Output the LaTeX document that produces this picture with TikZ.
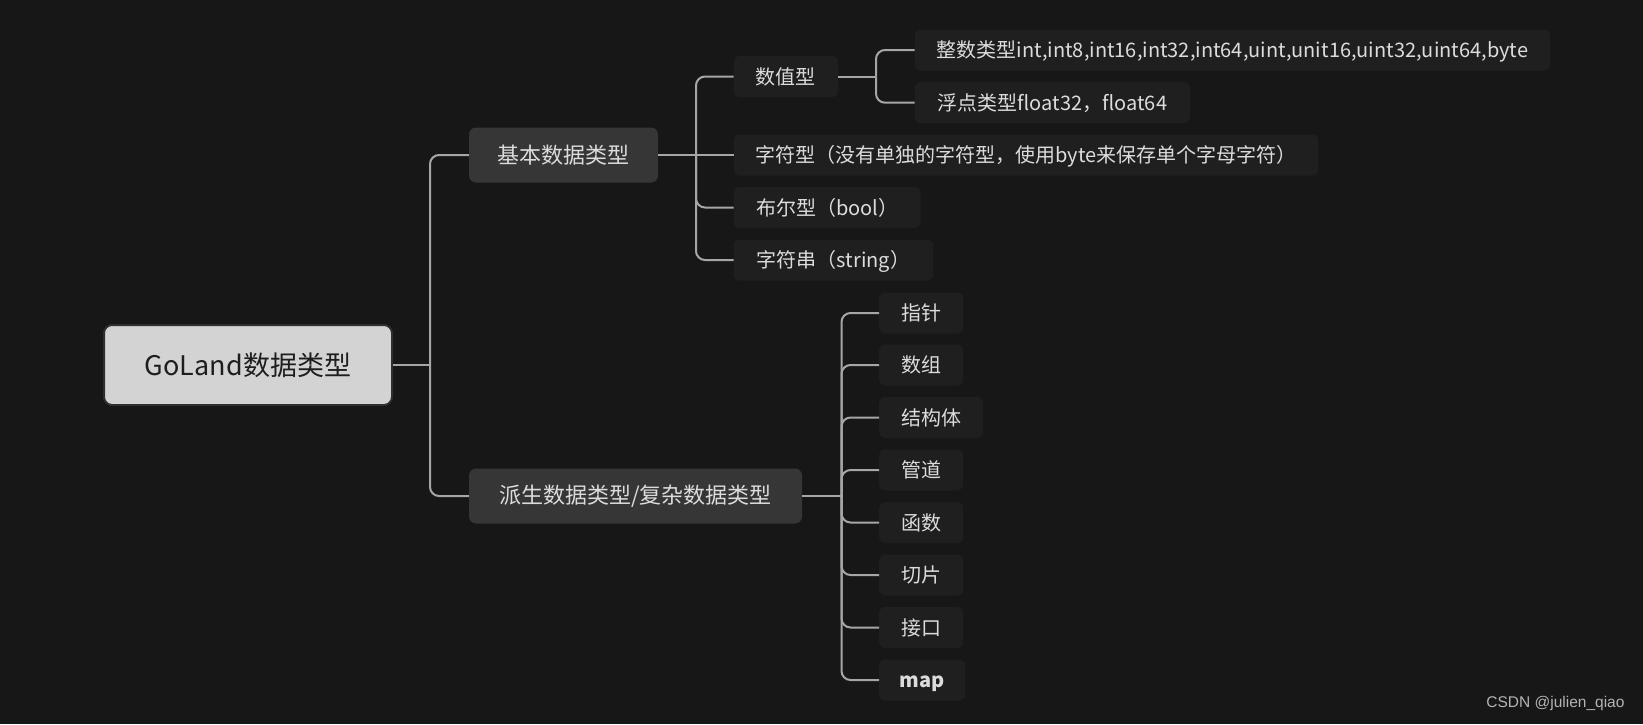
\documentclass[tikz,border=0pt]{standalone}
\usepackage{fontspec}
\setmainfont{Noto Sans CJK SC}
\newfontfamily\wmfont{Liberation Sans}
\definecolor{bg}{HTML}{171717}
\definecolor{leaffill}{HTML}{1F1F1F}
\definecolor{midfill}{HTML}{363636}
\definecolor{rootfill}{HTML}{D3D3D3}
\definecolor{rootline}{HTML}{2E2E2E}
\definecolor{txt}{HTML}{DCDCDC}
\definecolor{roottxt}{HTML}{1E1E1E}
\definecolor{linec}{HTML}{A6A6A6}
\definecolor{wm}{HTML}{B4B4B4}
\tikzset{
  rootbox/.style={draw=rootline, line width=2pt, fill=rootfill, rounded corners=8pt, inner sep=0pt,
    minimum width=288pt, minimum height=80pt, text=roottxt, font=\fontsize{27}{32}\selectfont},
  midbox/.style={fill=midfill, rounded corners=7pt, inner sep=0pt, minimum height=55pt,
    text=txt, font=\fontsize{22}{26}\selectfont},
  leafbox/.style={fill=leaffill, rounded corners=6pt, inner sep=0pt, minimum height=41pt,
    anchor=west, text=txt, font=\fontsize{20}{24}\selectfont,
    text height=17.6pt, text depth=2.4pt},
  conn/.style={draw=linec, line width=2pt, rounded corners=9pt},
}
\begin{document}
\begin{tikzpicture}[x=1pt, y=-1pt]
\fill[bg] (0,0) rectangle (1643,724);
\useasboundingbox (0,0) rectangle (1643,724);

% nodes
\node[rootbox] (root) at (248,365) {GoLand数据类型};
\node[midbox, minimum width=189pt] (basic) at (563.5,155) {基本数据类型};
\node[midbox, minimum width=333pt] (derived) at (635.5,496) {派生数据类型/复杂数据类型};

\node[leafbox, minimum width=104.5pt] (num) at (733.5,76.5) {数值型};
\node[leafbox, minimum width=635pt] (int) at (914.7,50) {整数类型int,int8,int16,int32,int64,uint,unit16,uint32,uint64,byte};
\node[leafbox, minimum width=275pt] (float) at (914.7,102.7) {浮点类型float32，float64};
\node[leafbox, minimum width=584.5pt] (char) at (733.5,155) {字符型（没有单独的字符型，使用byte来保存单个字母字符）};
\node[leafbox, minimum width=187pt] (bool) at (733.5,207.5) {布尔型（bool）};
\node[leafbox, minimum width=199.5pt] (str) at (733.5,260) {字符串（string）};

\node[leafbox, minimum width=84pt] (ptr) at (879,313) {指针};
\node[leafbox, minimum width=84pt] (arr) at (879,365) {数组};
\node[leafbox, minimum width=104pt] (struct) at (879,417.5) {结构体};
\node[leafbox, minimum width=84pt] (chan) at (879,470) {管道};
\node[leafbox, minimum width=84pt] (func) at (879,522.5) {函数};
\node[leafbox, minimum width=84pt] (slice) at (879,575) {切片};
\node[leafbox, minimum width=84pt] (iface) at (879,627.5) {接口};
\node[leafbox, minimum width=86pt] (map) at (879,680) {\bfseries map};

% junctions
\coordinate (j0) at (430,365);
\coordinate (j1) at (696,155);
\coordinate (j2) at (876,76.5);
\coordinate (j3) at (841.5,496);

% connectors
\draw[conn] (root.east) -- (j0);
\draw[conn] (j0) |- (basic.west);
\draw[conn] (j0) |- (derived.west);

\draw[conn] (basic.east) -- (j1);
\draw[conn] (j1) |- (num.west);
\draw[conn] (j1) -- (char.west);
\draw[conn] (j1) |- (bool.west);
\draw[conn] (j1) |- (str.west);

\draw[conn] (num.east) -- (j2);
\draw[conn] (j2) |- (int.west);
\draw[conn] (j2) |- (float.west);

\draw[conn] (derived.east) -- (j3);
\foreach \n in {ptr,arr,struct,chan,func,slice,iface,map}
  \draw[conn] (j3) |- (\n.west);

% watermark
\node[text=wm, font=\wmfont\fontsize{15.5}{18}\selectfont, anchor=east] (wmk) at (1628,703) {CSDN @julien\_qiao};
\end{tikzpicture}
\end{document}
